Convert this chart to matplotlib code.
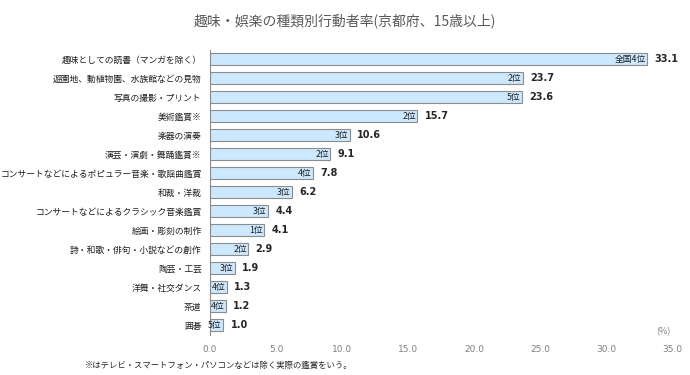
import matplotlib
matplotlib.use("Agg")
import matplotlib.pyplot as plt

plt.rcParams['font.family'] = ['Noto Sans CJK JP', 'DejaVu Sans']

categories = [
    '趣味としての読書（マンガを除く）',
    '遊園地、動植物園、水族館などの見物',
    '写真の撮影・プリント',
    '美術鑑賞※',
    '楽器の演奏',
    '演芸・演劇・舞踊鑑賞※',
    'コンサートなどによるポピュラー音楽・歌謡曲鑑賞',
    '和裁・洋裁',
    'コンサートなどによるクラシック音楽鑑賞',
    '絵画・彫刻の制作',
    '詩・和歌・俳句・小説などの創作',
    '陶芸・工芸',
    '洋舞・社交ダンス',
    '茶道',
    '囲碁',
]
values = [33.1, 23.7, 23.6, 15.7, 10.6, 9.1, 7.8, 6.2, 4.4, 4.1, 2.9, 1.9, 1.3, 1.2, 1.0]
ranks = ['全国4位', '2位', '5位', '2位', '3位', '2位', '4位', '3位', '3位', '1位', '2位', '3位', '4位', '4位', '5位']
xticks = [0, 5, 10, 15, 20, 25, 30, 35]

fig = plt.figure(figsize=(6.9, 3.75), dpi=100)
ax = fig.add_axes([0.3043, 0.107, 0.670, 0.760])

pos = list(range(len(categories)))
ax.barh(pos, values, height=0.62, color='#CCE8FF', edgecolor='#8C8C8C', linewidth=0.8)

for i, (v, r) in enumerate(zip(values, ranks)):
    ax.text(v - 0.1, i, r, ha='right', va='center', fontsize=6.3, color='#1F1F1F')
    ax.text(v + 0.55, i, f'{v:.1f}', ha='left', va='center', fontsize=7,
            fontweight='bold', color='#262626', family='DejaVu Sans')

ax.set_ylim(14.5, -0.5)
ax.set_xlim(0, 35)
ax.set_yticks(pos)
ax.set_yticklabels(categories, fontsize=6.3, color='#1F1F1F')
ax.set_xticks(xticks)
ax.set_xticklabels([f'{t:.1f}' for t in xticks], fontsize=6.5, color='#7F7F7F',
                   family='DejaVu Sans')
ax.tick_params(axis='both', length=0, pad=7)
ax.tick_params(axis='y', pad=6)

for s in ['top', 'right', 'bottom']:
    ax.spines[s].set_visible(False)
ax.spines['left'].set_color('#8C8C8C')

fig.text(0.5, 0.945, '趣味・娯楽の種類別行動者率(京都府、15歳以上)', ha='center', va='center',
         fontsize=10, color='#595959')
fig.text(0.962, 0.115, '(%)', ha='center', va='center', fontsize=6.5, color='#7F7F7F')
fig.text(0.123, 0.025, '※はテレビ・スマートフォン・パソコンなどは除く実際の鑑賞をいう。', ha='left',
         va='center', fontsize=6, color='#262626')

fig.savefig('out.png', dpi=100)
